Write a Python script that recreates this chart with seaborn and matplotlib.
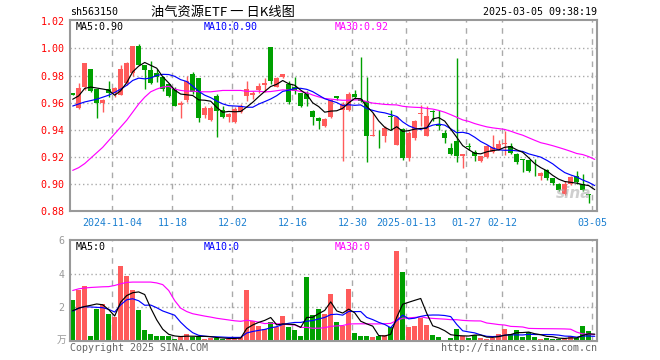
import numpy as np
import pandas as pd
import matplotlib
matplotlib.use("Agg")
import matplotlib.pyplot as plt
import seaborn as sns

# ---------------- data ----------------
opens = [0.9673, 0.9558, 0.9713, 0.9845, 0.9700, 0.9600, 0.9700, 0.9668, 0.9660, 0.9744,
         0.9817, 1.0017, 0.9878, 0.9840, 0.9820, 0.9790, 0.9740, 0.9700, 0.9580, 0.9618,
         0.9813, 0.9783, 0.9508, 0.9475, 0.9650, 0.9545, 0.9493, 0.9455, 0.9533, 0.9650,
         0.9655, 0.9693, 0.9730, 1.0008, 0.9718, 0.9787, 0.9740, 0.9713, 0.9668, 0.9663,
         0.9538, 0.9490, 0.9425, 0.9495, 0.9650, 0.9547, 0.9547, 0.9664, 0.9630, 0.9615,
         0.9356, 0.9356, 0.9351, 0.9498, 0.9290, 0.9405, 0.9192, 0.9339, 0.9515, 0.9356,
         0.9537, 0.9441, 0.9375, 0.9265, 0.9314, 0.9204, 0.9280, 0.9233, 0.9167, 0.9199,
         0.9236, 0.9258, 0.9297, 0.9282, 0.9223, 0.9187, 0.9174, 0.9088, 0.9062, 0.9100,
         0.9040, 0.9000, 0.8922, 0.9003, 0.9057, 0.9003, 0.8925, 0.8852]
highs = [0.9673, 0.9743, 0.9893, 0.9850, 0.9700, 0.9625, 0.9763, 0.9713, 0.9875, 0.9900,
         1.0017, 1.0033, 0.9880, 0.9905, 0.9850, 0.9800, 0.9745, 0.9713, 0.9610, 0.9800,
         0.9825, 0.9785, 0.9575, 0.9575, 0.9663, 0.9575, 0.9525, 0.9570, 0.9588, 0.9763,
         0.9688, 0.9745, 0.9780, 1.0008, 0.9788, 0.9811, 0.9763, 0.9788, 0.9670, 0.9688,
         0.9545, 0.9493, 0.9488, 0.9625, 0.9650, 0.9608, 0.9677, 0.9694, 0.9939, 0.9790,
         0.9520, 0.9400, 0.9424, 0.9547, 0.9500, 0.9415, 0.9390, 0.9473, 0.9583, 0.9572,
         0.9547, 0.9547, 0.9395, 0.9300, 0.9927, 0.9223, 0.9300, 0.9253, 0.9208, 0.9290,
         0.9363, 0.9326, 0.9387, 0.9302, 0.9228, 0.9187, 0.9180, 0.9184, 0.9086, 0.9110,
         0.9045, 0.9008, 0.9020, 0.9057, 0.9094, 0.9076, 0.8925, 0.8852]
lows = [0.9655, 0.9553, 0.9695, 0.9680, 0.9488, 0.9533, 0.9638, 0.9638, 0.9655, 0.9730,
        0.9800, 0.9875, 0.9700, 0.9735, 0.9750, 0.9688, 0.9645, 0.9573, 0.9488, 0.9608,
        0.9663, 0.9458, 0.9488, 0.9468, 0.9345, 0.9488, 0.9458, 0.9450, 0.9525, 0.9613,
        0.9625, 0.9668, 0.9675, 0.9740, 0.9713, 0.9785, 0.9588, 0.9663, 0.9570, 0.9575,
        0.9437, 0.9405, 0.9420, 0.9490, 0.9620, 0.9167, 0.9540, 0.9630, 0.9605, 0.9160,
        0.9350, 0.9265, 0.9307, 0.9400, 0.9290, 0.9180, 0.9167, 0.9325, 0.9424, 0.9350,
        0.9468, 0.9400, 0.9300, 0.9216, 0.9160, 0.9118, 0.9253, 0.9167, 0.9160, 0.9192,
        0.9228, 0.9250, 0.9216, 0.9223, 0.9150, 0.9086, 0.9086, 0.9057, 0.9027, 0.9030,
        0.8995, 0.8947, 0.8915, 0.8990, 0.9003, 0.8947, 0.8860, 0.8848]
closes = [0.9655, 0.9708, 0.9893, 0.9683, 0.9600, 0.9618, 0.9668, 0.9705, 0.9850, 0.9895,
          1.0017, 0.9880, 0.9840, 0.9745, 0.9790, 0.9700, 0.9651, 0.9575, 0.9600, 0.9763,
          0.9675, 0.9488, 0.9563, 0.9563, 0.9538, 0.9493, 0.9518, 0.9550, 0.9575, 0.9700,
          0.9670, 0.9725, 0.9743, 0.9758, 0.9780, 0.9810, 0.9605, 0.9688, 0.9578, 0.9625,
          0.9497, 0.9465, 0.9482, 0.9618, 0.9637, 0.9590, 0.9664, 0.9645, 0.9610, 0.9356,
          0.9363, 0.9350, 0.9412, 0.9493, 0.9493, 0.9192, 0.9375, 0.9468, 0.9520, 0.9503,
          0.9532, 0.9424, 0.9339, 0.9223, 0.9204, 0.9223, 0.9275, 0.9204, 0.9204, 0.9277,
          0.9272, 0.9297, 0.9302, 0.9228, 0.9160, 0.9180, 0.9094, 0.9086, 0.9081, 0.9045,
          0.9008, 0.8954, 0.9000, 0.9052, 0.9013, 0.8954, 0.8920, 0.8850]
volumes = [2.44, 3.05, 3.29, 0.32, 1.90, 2.20, 1.60, 1.41, 4.44, 3.84,
           3.05, 1.84, 0.63, 0.44, 0.32, 0.28, 0.32, 0.14, 0.26, 0.44,
           0.26, 0.28, 0.14, 0.16, 0.20, 0.12, 0.14, 0.14, 0.26, 3.05,
           1.17, 0.92, 0.72, 1.12, 0.86, 1.46, 0.82, 0.64, 0.27, 3.79,
           1.53, 1.90, 1.59, 2.81, 1.11, 0.89, 3.06, 0.50, 0.32, 0.32,
           0.21, 0.27, 0.35, 0.84, 5.37, 4.09, 0.86, 0.92, 1.39, 0.98,
           0.37, 0.25, 0.07, 0.20, 0.74, 0.27, 0.20, 0.35, 0.20, 0.14,
           0.20, 0.42, 0.74, 0.42, 0.68, 0.25, 0.56, 0.25, 0.13, 0.19,
           0.14, 0.13, 0.17, 0.30, 0.16, 0.92, 0.57, 0.08]

# moving-average values at the start of the window (history not shown on chart)
ma5_head = [0.9625, 0.9650, 0.9705, 0.9715]
ma10_head = [0.9575, 0.9590, 0.9605, 0.9615, 0.9625, 0.9640, 0.9655, 0.9675, 0.9700]
ma30_head = [0.910, 0.912, 0.915, 0.919, 0.923, 0.927, 0.932, 0.937, 0.942, 0.947,
             0.953, 0.959, 0.964, 0.968, 0.970, 0.9715, 0.972, 0.970, 0.969, 0.9685,
             0.9685, 0.968, 0.968, 0.968, 0.9685, 0.969, 0.969, 0.969, 0.969]
vol_ma5_head = [1.80, 1.95, 2.05, 2.12]
vol_ma10_head = [1.78, 1.95, 2.04, 2.02, 2.00, 1.98, 1.88, 1.72, 2.15]
vol_ma30_head = [3.00, 3.10, 3.15, 3.18, 3.20, 3.22, 3.23, 3.30, 3.40, 3.48,
                 3.50, 3.50, 3.50, 3.50, 3.45, 3.35, 3.00, 2.40, 1.95, 1.75,
                 1.62, 1.55, 1.48, 1.42, 1.35, 1.30, 1.25, 1.20, 1.17]

date_labels = ["2024-11-04", "11-18", "12-02", "12-16", "12-30",
               "2025-01-13", "01-27", "02-12", "03-05"]
date_idx = [7, 17, 27, 37, 47, 56, 66, 72, 87]
price_ticks = [0.88, 0.90, 0.92, 0.94, 0.96, 0.98, 1.00, 1.02]
vol_ticks = [2, 4, 6]

title = "油气资源ETF 一 日K线图"
code = "sh563150"
stamp = "2025-03-05 09:38:19"

# ---------------- style ----------------
sns.set_style("white")
plt.rcParams["font.family"] = ["DejaVu Sans Mono", "Noto Sans CJK SC"]

RED = "#ff5b5b"
GREEN = "#00a000"
GRID = "#aaaaaa"
SPINE = "#999999"
BLUE_TXT = "#1a7fd0"
LW = 0.85

W, H = 660, 360
fig = plt.figure(figsize=(W / 100, H / 100), dpi=100)
fig.patch.set_facecolor("white")


def px(l, t, r, b):
    return [l / W, 1 - b / H, (r - l) / W, (b - t) / H]


ax = fig.add_axes(px(70, 20, 597, 211))
axv = fig.add_axes(px(70, 240, 597, 341))

n = len(closes)
idx = np.arange(n)
o = np.array(opens)
h = np.array(highs)
l = np.array(lows)
c = np.array(closes)
v = np.array(volumes)
up = c >= o
colors = np.where(up, RED, GREEN)


def moving(series, win, head):
    m = pd.Series(series).rolling(win).mean().to_numpy()
    m[:len(head)] = head
    return m


ma5 = moving(c, 5, ma5_head)
ma10 = moving(c, 10, ma10_head)
ma30 = moving(c, 30, ma30_head)
vma5 = moving(v, 5, vol_ma5_head)
vma10 = moving(v, 10, vol_ma10_head)
vma30 = moving(v, 30, vol_ma30_head)

for a in (ax, axv):
    a.set_facecolor("white")
    for s in a.spines.values():
        s.set_color(SPINE)
        s.set_linewidth(1.5)
    a.set_xlim(-0.45, n - 1 + 0.38)
    for di in date_idx:
        a.axvline(di - 0.37, color=GRID, lw=1, ls=(0, (4, 4)), zorder=1)

# ---------------- price panel ----------------
ax.set_ylim(0.88, 1.021)
for t in price_ticks[1:-1]:
    ax.axhline(t, color=GRID, lw=1, ls=(0, (1, 2)), zorder=1)

ax.vlines(idx, np.minimum(l, np.minimum(o, c)), np.maximum(h, np.maximum(o, c)),
          colors=colors, lw=1, zorder=2)
body_lo = np.minimum(o, c)
body_h = np.maximum(np.abs(c - o), 0.0005)
ax.bar(idx, body_h, bottom=body_lo, width=0.78, color=colors, linewidth=0, zorder=2)

sns.lineplot(x=idx, y=ma30, ax=ax, color="#ff00ff", lw=LW, zorder=3)
sns.lineplot(x=idx, y=ma10, ax=ax, color="#0000ff", lw=LW, zorder=3)
sns.lineplot(x=idx, y=ma5, ax=ax, color="#000000", lw=LW, zorder=3)

ax.set_yticks(price_ticks)
ax.set_yticklabels([f"{t:.2f}" for t in price_ticks], color="#ff0000", fontsize=7.2)
ax.set_xticks([d - 0.37 for d in date_idx])
ax.set_xticklabels(date_labels, color=BLUE_TXT, fontsize=7.2)
ax.tick_params(axis="both", length=0, pad=4)
ax.tick_params(axis="x", pad=5)
ax.set_xlabel("")
ax.set_ylabel("")

ax.text(0.01, 0.965, f"MA5:{ma5[-1]:.2f}", transform=ax.transAxes, color="black",
        fontsize=7.2, va="center", ha="left")
ax.text(0.254, 0.965, f"MA10:{ma10[-1]:.2f}", transform=ax.transAxes, color="#0000ff",
        fontsize=7.2, va="center", ha="left")
ax.text(0.503, 0.965, f"MA30:{ma30[-1]:.2f}", transform=ax.transAxes, color="#ff00ff",
        fontsize=7.2, va="center", ha="left")
ax.text(0.955, 0.09, "sina", transform=ax.transAxes, color="#b0b0b0", alpha=0.6,
        fontsize=11, fontstyle="italic", fontweight="bold", ha="center", va="center",
        family="DejaVu Sans", zorder=4)

# ---------------- volume panel ----------------
axv.set_ylim(0, 6.0)
for t in vol_ticks[:-1]:
    axv.axhline(t, color=GRID, lw=1, ls=(0, (1, 2)), zorder=1)
axv.bar(idx, v, width=0.82, color=colors, linewidth=0, zorder=2)
sns.lineplot(x=idx, y=vma30, ax=axv, color="#ff00ff", lw=LW, zorder=3)
sns.lineplot(x=idx, y=vma10, ax=axv, color="#0000ff", lw=LW, zorder=3)
sns.lineplot(x=idx, y=vma5, ax=axv, color="#000000", lw=LW, zorder=3)
axv.set_yticks(vol_ticks)
axv.set_yticklabels([str(t) for t in vol_ticks], color="#999999", fontsize=7.2)
axv.set_xticks([])
axv.tick_params(axis="both", length=0, pad=4)
axv.set_xlabel("")
axv.set_ylabel("")

axv.text(0.01, 0.935, "MA5:0", transform=axv.transAxes, color="black", fontsize=7.2,
         va="center", ha="left")
axv.text(0.254, 0.935, "MA10:0", transform=axv.transAxes, color="#0000ff", fontsize=7.2,
         va="center", ha="left")
axv.text(0.503, 0.935, "MA30:0", transform=axv.transAxes, color="#ff00ff", fontsize=7.2,
         va="center", ha="left")

# ---------------- header / footer texts ----------------
fig.text(70 / W, 1 - 12 / H, code, fontsize=7.2, color="black", ha="left", va="center")
fig.text(223 / W, 1 - 12 / H, title, fontsize=9.5, color="black", ha="center", va="center",
         family=["Noto Sans CJK SC", "DejaVu Sans"])
fig.text(597 / W, 1 - 12 / H, stamp, fontsize=7.2, color="black", ha="right", va="center")
fig.text(66 / W, 1 - 340 / H, "万", fontsize=7, color="#999999", ha="right", va="center",
         family=["Noto Sans CJK SC", "DejaVu Sans"])
fig.text(70 / W, 1 - 348 / H, "Copyright 2025 SINA.COM", fontsize=7.2, color="#666666",
         ha="left", va="center")
fig.text(597 / W, 1 - 348 / H, "http://finance.sina.com.cn", fontsize=7.2, color="#666666",
         ha="right", va="center")

fig.savefig("out.png", dpi=100, facecolor="white")
